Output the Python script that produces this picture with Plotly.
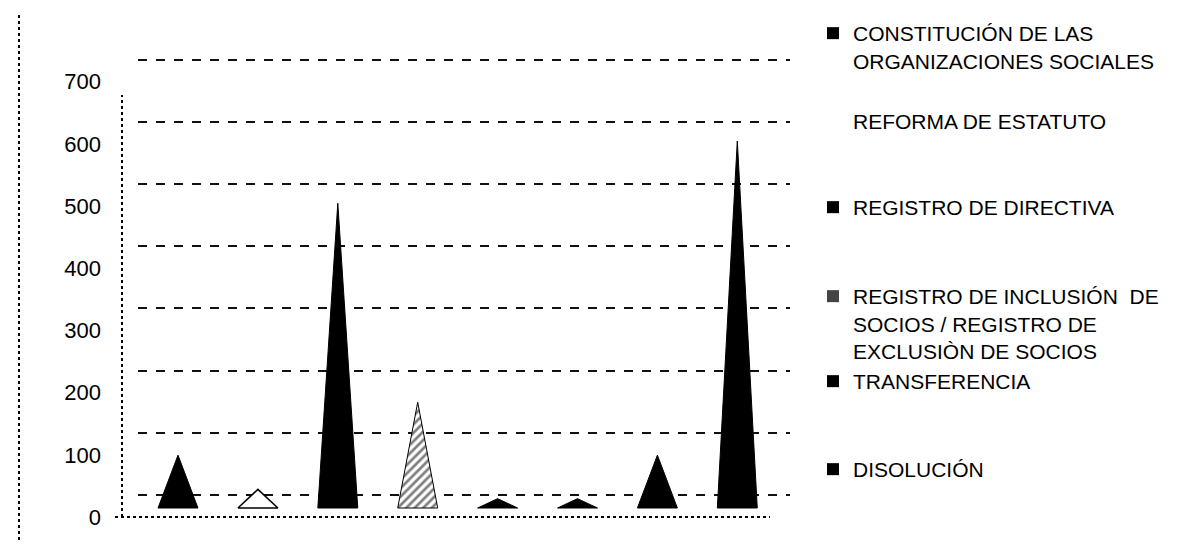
import plotly.graph_objects as go

# ---------------- data ----------------
series_names = [
    "CONSTITUCIÓN DE LAS<br>ORGANIZACIONES SOCIALES",
    "REFORMA DE ESTATUTO",
    "REGISTRO DE DIRECTIVA",
    "REGISTRO DE INCLUSIÓN  DE<br>SOCIOS / REGISTRO DE<br>EXCLUSIÒN DE SOCIOS",
    "TRANSFERENCIA",
    "DISOLUCIÓN",
]
series_fill = ["#000000", "#ffffff", "#000000", "pattern", "#000000", "#000000"]
series_marker = ["#000000", "#ffffff", "#000000", "#444444", "#000000", "#000000"]

cone_series = [0, 1, 2, 3, 4, 5, 0, 2]             # series of each cone, left to right
cone_values = [85, 30, 490, 170, 15, 15, 85, 590]   # height of each cone

y_ticks = [0, 100, 200, 300, 400, 500, 600, 700]

# legend first-line centre (px from top of the window) for each series
legend_centers = [34, 122, 208, 297, 382, 470]

# ---------------- geometry (window pixels) ----------------
OFF = 8                       # page body margin
W, H = 1194 - OFF, 544 - OFF  # figure size so it fits the window


def px(v):
    """window pixel -> figure pixel"""
    return v - OFF


PLOT_L, PLOT_R, PLOT_T, PLOT_B = px(122), px(790), px(20), px(524)
ML, MR, MT, MB = PLOT_L, W - PLOT_R, PLOT_T, H - PLOT_B
PW, PH = PLOT_R - PLOT_L, PLOT_B - PLOT_T

PX_PER_UNIT = 0.622       # vertical pixels per value unit
BASE_PX = px(508)         # pixel row of value 0 for the cones
FIRST_CONE_PX = px(178)   # centre of the first cone
CONE_STEP_PX = 79.9       # distance between cones
HALF_W = 0.25             # half base width of a cone (category units)
BACK_DX, BACK_DY = 16, 13 # depth offset of the back wall (px)
LABEL_SHIFT = 9           # front edge labels sit below the cone floor


def paper_x(v):
    return (px(v) - PLOT_L) / PW


def paper_y(v):
    return (PLOT_B - px(v)) / PH


fig = go.Figure()

# back-wall grid subplot (xy)
fig.add_trace(go.Scatter(x=[0], y=[0], mode="markers", marker=dict(opacity=0),
                         showlegend=False, hoverinfo="skip", xaxis="x", yaxis="y"))

# cones (x2y2)
for i, (s, v) in enumerate(zip(cone_series, cone_values)):
    xs = [i - HALF_W, i, i + HALF_W, i - HALF_W]
    ys = [0, v, 0, 0]
    kw = {}
    if series_fill[s] == "pattern":
        kw["fillcolor"] = "#ffffff"
        kw["fillpattern"] = dict(shape="/", fgcolor="#000000", bgcolor="#ffffff",
                                 solidity=0.45, size=6)
        line = dict(color="#000000", width=1)
    elif series_fill[s] == "#ffffff":
        kw["fillcolor"] = "#ffffff"
        line = dict(color="#000000", width=1.5)
    else:
        kw["fillcolor"] = series_fill[s]
        line = dict(color="#000000", width=1)
    fig.add_trace(go.Scatter(x=xs, y=ys, mode="lines", fill="toself", line=line,
                             showlegend=False, hoverinfo="skip",
                             xaxis="x2", yaxis="y2", **kw))

# legend entries, one legend per series so each sits where the original did
legend_layout = {}
for k, name in enumerate(series_names):
    lname = "legend" if k == 0 else f"legend{k + 1}"
    fig.add_trace(go.Scatter(x=[None], y=[None], mode="markers", name=name,
                             marker=dict(symbol="square", size=12, color=series_marker[k]),
                             legend=lname, xaxis="x2", yaxis="y2"))
    legend_layout[lname] = dict(
        x=px(813) / W, xref="container", xanchor="left",
        y=1 - px(legend_centers[k] - 21) / H, yref="container", yanchor="top",
        valign="top", bgcolor="rgba(0,0,0,0)",
        font=dict(family="Liberation Sans", size=21, color="#000000"),
        itemclick=False, itemdoubleclick=False,
    )

x2_range = [-(FIRST_CONE_PX - PLOT_L) / CONE_STEP_PX,
            -(FIRST_CONE_PX - PLOT_L) / CONE_STEP_PX + PW / CONE_STEP_PX]
y2_range = [-(PLOT_B - BASE_PX) / PX_PER_UNIT, (BASE_PX - PLOT_T) / PX_PER_UNIT]

grid_zero_px = BASE_PX - BACK_DY
y_range = [-(PLOT_B - BACK_DY - grid_zero_px) / PX_PER_UNIT,
           (grid_zero_px - PLOT_T) / PX_PER_UNIT]

dot = dict(color="#000000", width=2, dash="dot")

fig.update_layout(
    width=W, height=H,
    margin=dict(l=ML, r=MR, t=MT, b=MB, autoexpand=False),
    paper_bgcolor="#ffffff", plot_bgcolor="rgba(0,0,0,0)",
    showlegend=True,
    xaxis=dict(domain=[BACK_DX / PW, 1], range=[0, 1], visible=False, anchor="y"),
    yaxis=dict(domain=[BACK_DY / PH, 1], range=y_range, anchor="x",
               tickvals=y_ticks, showticklabels=False, ticks="",
               showgrid=True, gridcolor="#111111", gridwidth=2, griddash="dash",
               zeroline=False, showline=False),
    xaxis2=dict(domain=[0, 1], range=x2_range, visible=False, anchor="y2"),
    yaxis2=dict(domain=[0, 1], range=y2_range, anchor="x2",
                tickvals=y_ticks, ticktext=[str(t) for t in y_ticks],
                showgrid=False, zeroline=False, showline=False, ticks="",
                ticklabelstandoff=20, ticklabelshift=LABEL_SHIFT,
                tickfont=dict(family="Liberation Sans", size=22, color="#000000")),
    shapes=[
        # front-left edge of the side wall
        dict(type="line", xref="paper", yref="paper",
             x0=0, x1=0, y0=paper_y(517), y1=paper_y(95), line=dot),
        # front edge of the floor
        dict(type="line", xref="paper", yref="paper",
             x0=paper_x(115), x1=paper_x(770),
             y0=paper_y(517), y1=paper_y(517), line=dot),
        # chart border on the far left
        dict(type="line", xref="paper", yref="paper",
             x0=paper_x(19), x1=paper_x(19),
             y0=paper_y(540), y1=paper_y(12), line=dot),
    ],
    **legend_layout,
)

fig.write_html("out.html")
